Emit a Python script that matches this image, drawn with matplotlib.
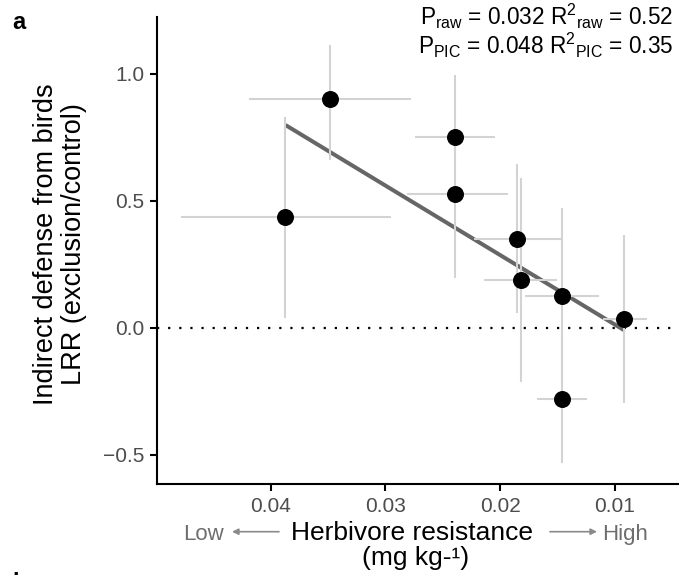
import matplotlib
matplotlib.use("Agg")
import matplotlib.pyplot as plt
import numpy as np

plt.rcParams["font.family"] = ["Liberation Sans", "DejaVu Sans"]
plt.rcParams["mathtext.fontset"] = "custom"
plt.rcParams["mathtext.rm"] = "Liberation Sans"
plt.rcParams["mathtext.it"] = "Liberation Sans"

# herbivore resistance (mg kg-1) and LRR for each species
resist = [0.0387, 0.0348, 0.0239, 0.0239, 0.0185, 0.0182, 0.0146, 0.0146, 0.0092]
resist_lo = [0.0295, 0.0278, 0.0204, 0.0193, 0.0146, 0.0150, 0.0114, 0.0124, 0.0072]
resist_hi = [0.0478, 0.0419, 0.0274, 0.0281, 0.0223, 0.0214, 0.0178, 0.0168, 0.0110]
lrr = [0.435, 0.899, 0.751, 0.525, 0.348, 0.188, 0.126, -0.282, 0.035]
lrr_lo = [0.037, 0.660, 0.640, 0.194, 0.057, -0.213, -0.220, -0.534, -0.298]
lrr_hi = [0.831, 1.113, 0.860, 0.995, 0.644, 0.588, 0.470, -0.029, 0.365]

x_ticks = [0.04, 0.03, 0.02, 0.01]
y_ticks = [-0.5, 0.0, 0.5, 1.0]

x = np.array(resist)
y = np.array(lrr)
xerr = [x - np.array(resist_lo), np.array(resist_hi) - x]
yerr = [y - np.array(lrr_lo), np.array(lrr_hi) - y]

fig = plt.figure(figsize=(6.79, 5.75), dpi=100)
ax = fig.add_axes([157 / 679, 91 / 575, 522 / 679, 467 / 575])

ax.axhline(0, color="black", lw=1.6, ls=(0, (1, 4)), zorder=1)

slope, icept = np.polyfit(x, y, 1)
xl = np.array([x.min(), x.max()])
ax.plot(xl, slope * xl + icept, color="#666666", lw=2.9, solid_capstyle="butt", zorder=2)

ax.errorbar(x, y, xerr=xerr, yerr=yerr, fmt="none", ecolor="#d3d3d3",
            elinewidth=1.5, capsize=0, zorder=3)
ax.plot(x, y, "o", color="black", markersize=11.2, zorder=4)

ax.set_xlim(0.0499, 0.0044)
ax.set_ylim(-0.615, 1.223)
ax.set_xticks(x_ticks)
ax.set_xticklabels([f"{v:.2f}" for v in x_ticks])
ax.set_yticks(y_ticks)
ax.set_yticklabels(["\u22120.5", "0.0", "0.5", "1.0"])

for side in ["top", "right"]:
    ax.spines[side].set_visible(False)
for side in ["left", "bottom"]:
    ax.spines[side].set_linewidth(1.5)
ax.tick_params(length=5, width=1.5, pad=4, labelsize=15, labelcolor="#4d4d4d")

# axis titles
fig.text(60 / 679, 1 - 244 / 575, "Indirect defense from birds\nLRR (exclusion/control)",
         rotation=90, ha="center", va="center", fontsize=19.5, linespacing=1.1)
fig.text(412 / 679, 1 - 540 / 575, "Herbivore resistance", ha="center", va="baseline", fontsize=19)
fig.text(416 / 679, 1 - 565 / 575, "(mg kg-\u00b9)", ha="center", va="baseline", fontsize=19)
fig.text(183 / 679, 1 - 540 / 575, "Low", ha="left", va="baseline", fontsize=16, color="#6e6e6e")
fig.text(602 / 679, 1 - 540 / 575, "High", ha="left", va="baseline", fontsize=16, color="#6e6e6e")
ax.annotate("", xy=(232, 575 - 531.7), xytext=(279, 575 - 531.7), xycoords="figure pixels",
            arrowprops=dict(arrowstyle="-|>", color="#8a8a8a", lw=1.2, mutation_scale=9,
                            shrinkA=0, shrinkB=0))
ax.annotate("", xy=(597, 575 - 531.7), xytext=(550, 575 - 531.7), xycoords="figure pixels",
            arrowprops=dict(arrowstyle="-|>", color="#8a8a8a", lw=1.2, mutation_scale=9,
                            shrinkA=0, shrinkB=0))

# stats
stats = (r"P$_{\rm raw}$ = 0.032 R$^{2}$$_{\rm raw}$ = 0.52" + "\n" +
         r"P$_{\rm PIC}$ = 0.048 R$^{2}$$_{\rm PIC}$ = 0.35")
fig.text(673 / 679, 1 - 2 / 575, stats, ha="right", va="top", fontsize=16.3, linespacing=1.0)

fig.text(12 / 679, 1 - 29 / 575, "a", ha="left", va="baseline", fontsize=17, weight="bold")
fig.text(12 / 679, 1 - 572 / 575, "b", ha="left", va="top", fontsize=17, weight="bold")

fig.savefig("out.png", dpi=100)
